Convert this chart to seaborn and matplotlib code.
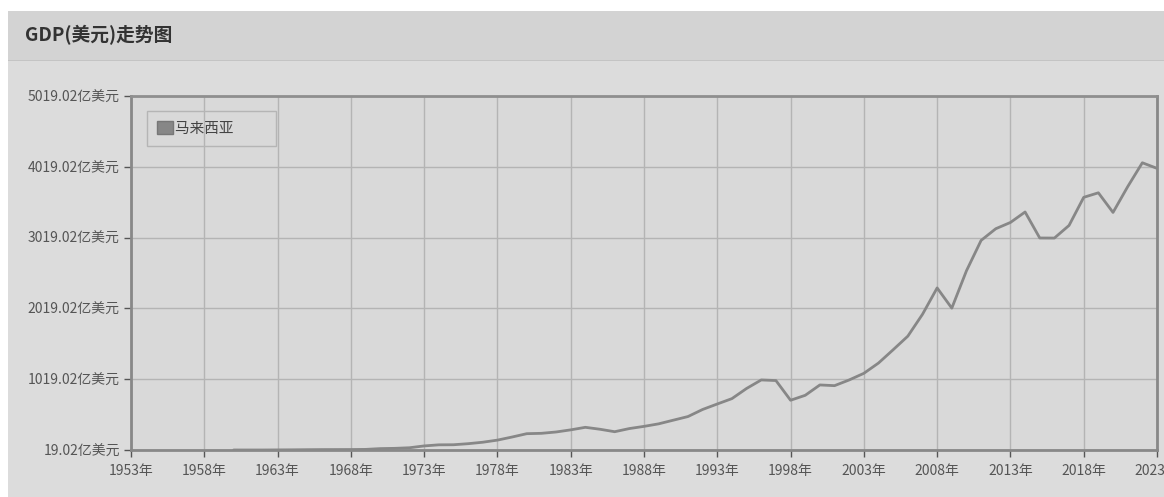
import pandas as pd
import matplotlib.pyplot as plt
import seaborn as sns
from matplotlib.patches import Rectangle, Patch

years = list(range(1960, 2024))
gdp = [19.2, 19.0, 19.1, 20.4, 21.6, 23.4, 24.7, 25.3, 25.7, 27.5,
       38.6, 42.4, 50.8, 76.6, 92.0, 93.2, 108.1, 128.8, 158.6, 202.3,
       249.4, 254.6, 273.4, 303.5, 339.4, 312.0, 277.3, 321.8, 352.7, 388.5,
       440.2, 491.4, 591.5, 668.9, 744.8, 888.3, 1008.5, 1000.1, 721.7, 791.5,
       937.9, 927.8, 1008.5, 1102.0, 1247.5, 1435.3, 1626.9, 1935.5, 2308.1, 2022.6,
       2550.2, 2979.5, 3144.4, 3232.8, 3380.7, 3013.5, 3012.6, 3191.1, 3587.9, 3651.8,
       3374.6, 3738.3, 4076.1, 3997.0]
x_ticks = list(range(1953, 2024, 5))
y_ticks = [19.02, 1019.02, 2019.02, 3019.02, 4019.02, 5019.02]
series_name = '马来西亚'

df = pd.DataFrame({'year': years, 'gdp': gdp})

sns.set_theme(style='white')
plt.rcParams['font.family'] = ['Noto Sans CJK SC', 'DejaVu Sans']

fig = plt.figure(figsize=(11.64, 4.97), dpi=100)
fig.patch.set_facecolor('white')
# panel background and title bar
fig.patches.append(Rectangle((8 / 1164, 0), 1, 1 - 11 / 497, transform=fig.transFigure,
                             facecolor='#dcdcdc', edgecolor='none', zorder=-10))
fig.patches.append(Rectangle((8 / 1164, 1 - 60 / 497), 1, 49 / 497, transform=fig.transFigure,
                             facecolor='#d3d3d3', edgecolor='none', zorder=-10))
fig.patches.append(Rectangle((8 / 1164, 1 - 61 / 497), 1, 1.5 / 497, transform=fig.transFigure,
                             facecolor='#c4c4c4', edgecolor='none', zorder=-10))
fig.text(25 / 1164, 1 - 35 / 497, 'GDP(美元)走势图', fontsize=13.5, fontweight='bold',
         color='#333333', va='center', ha='left')

ax = fig.add_axes([131 / 1164, 1 - 450 / 497, 1026 / 1164, 354 / 497])
ax.set_zorder(5)
ax.set_facecolor('#d9d9d9')
sns.lineplot(data=df, x='year', y='gdp', ax=ax, color='#878787', linewidth=2)

ax.set_xlim(1953, 2023)
ax.set_ylim(19.02, 5019.02)
ax.set_xticks(x_ticks)
ax.set_xticklabels([f'{y}年' for y in x_ticks])
ax.set_yticks(y_ticks)
ax.set_yticklabels([f'{v:.2f}亿美元' for v in y_ticks])
ax.set_xlabel('')
ax.set_ylabel('')
ax.grid(True, color='#b4b4b4', linewidth=1)
ax.tick_params(axis='both', labelsize=10, colors='#555555', length=5, width=1, direction='out',
               bottom=True, left=True)
ax.tick_params(axis='x', pad=5)
ax.tick_params(axis='y', pad=3)
for sp in ax.spines.values():
    sp.set_color('#888888')
    sp.set_linewidth(2)
ax.spines['top'].set_color('#8f8f8f')

leg = ax.legend(handles=[Patch(facecolor='#878787', edgecolor='#777777', label=series_name + '          ')],
                loc='upper left', bbox_to_anchor=(16 / 1026, 1 - 15 / 354), borderaxespad=0,
                fancybox=False, framealpha=1, edgecolor='#b5b5b5', fontsize=10.5,
                handlelength=1.1, handleheight=1.0, handletextpad=0.1, borderpad=0.7)
leg.get_frame().set_linewidth(1)
leg.get_frame().set_facecolor('none')
for t in leg.get_texts():
    t.set_color('#444444')

fig.savefig('out.png', dpi=100)
